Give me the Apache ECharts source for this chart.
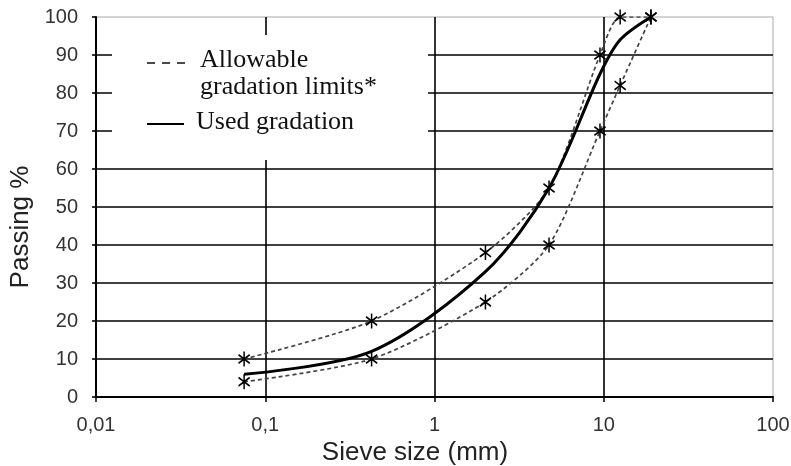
<!DOCTYPE html>
<html>
<head>
<meta charset="utf-8">
<title>Gradation curve</title>
<script src="https://cdn.jsdelivr.net/npm/echarts@6/dist/echarts.min.js"></script>
<style>
  html, body { margin: 0; padding: 0; background: #fff; }
  #main { width: 791px; height: 466px; }
</style>
</head>
<body>
<div id="main"></div>
<script>
// sieve sizes (mm) and passing %
var sieveSizes = [0.075, 0.425, 2, 4.75, 9.5, 12.5, 19];
var upperLimit = [10, 20, 38, 55, 90, 100, 100];
var lowerLimit = [4, 10, 25, 40, 70, 82, 100];
var usedGradation = [6, 12, 33, 55, 85, 94, 100];

var yTicks = [0, 10, 20, 30, 40, 50, 60, 70, 80, 90, 100];

// asterisk marker
var STAR = 'path://M6,0 L6,14 M0,3 L12,11 M0,11 L12,3';

function toPoints(vals) {
  var pts = [];
  for (let i = 0; i < sieveSizes.length; i++) {
    pts.push([sieveSizes[i], vals[i]]);
  }
  return pts;
}

var chart = echarts.init(document.getElementById('main'), null, { renderer: 'canvas' });

var limitLine = {
  type: 'line',
  smooth: 0.25,
  symbol: STAR,
  symbolSize: [13, 15],
  symbolKeepAspect: true,
  itemStyle: { color: 'none', borderColor: '#000', borderWidth: 1.6 },
  lineStyle: { color: '#444', width: 1.7, type: [4, 3] },
  z: 3
};

var option = {
  animation: false,
  grid: {
    left: 96,
    right: 18,
    top: 17,
    bottom: 69,
    containLabel: false,
    outerBoundsMode: 'none',
    show: true,
    borderColor: '#aaa',
    borderWidth: 1
  },
  xAxis: {
    type: 'log',
    logBase: 10,
    min: 0.01,
    max: 100,
    name: 'Sieve size (mm)',
    nameLocation: 'middle',
    nameGap: 39,
    nameTextStyle: { fontFamily: 'Liberation Sans', fontSize: 26, color: '#222', padding: [0, 39, 0, 0] },
    axisLine: { show: true, lineStyle: { color: '#000', width: 2 } },
    axisTick: { show: true, length: 5, lineStyle: { color: '#000', width: 1.5 } },
    minorTick: { show: false },
    axisLabel: {
      margin: 18,
      fontFamily: 'Liberation Sans',
      fontSize: 20,
      color: '#333',
      formatter: function (v) {
        return String(+Number(v).toPrecision(6)).replace('.', ',');
      }
    },
    splitLine: { show: true, showMaxLine: false, lineStyle: { color: '#000', width: 1.6 } }
  },
  yAxis: {
    type: 'value',
    min: 0,
    max: 100,
    interval: 10,
    name: 'Passing %',
    nameLocation: 'middle',
    nameGap: 58,
    nameTextStyle: { fontFamily: 'Liberation Sans', fontSize: 26, color: '#222', padding: [0, 40, 0, 0] },
    axisLine: { show: true, lineStyle: { color: '#000', width: 2 } },
    axisTick: { show: true, length: 4, lineStyle: { color: '#000', width: 1.6 } },
    axisLabel: {
      margin: 18,
      fontFamily: 'Liberation Sans',
      fontSize: 20,
      color: '#333',
      formatter: function (v) { return yTicks.indexOf(v) >= 0 ? String(v) : ''; }
    },
    splitLine: { show: true, showMaxLine: false, lineStyle: { color: '#000', width: 1.6 } }
  },
  graphic: [
    { type: 'rect', z: 50, shape: { x: 112, y: 35, width: 316, height: 125 }, style: { fill: '#fff' } },
    { type: 'line', z: 51, shape: { x1: 147, y1: 63, x2: 185, y2: 63 }, style: { stroke: '#111', lineWidth: 1.5, lineDash: [8, 7] } },
    { type: 'line', z: 51, shape: { x1: 147, y1: 124, x2: 184, y2: 124 }, style: { stroke: '#000', lineWidth: 2.2 } },
    {
      type: 'text', z: 51, left: 200, top: 47,
      style: { text: 'Allowable\ngradation limits*', font: '26px "Liberation Serif"', fill: '#111', lineHeight: 27 }
    },
    {
      type: 'text', z: 51, left: 196, top: 109,
      style: { text: 'Used gradation', font: '26px "Liberation Serif"', fill: '#111', lineHeight: 27 }
    }
  ],
  series: [
    Object.assign({ name: 'Upper limit', data: toPoints(upperLimit) }, limitLine),
    Object.assign({ name: 'Lower limit', data: toPoints(lowerLimit) }, limitLine),
    {
      name: 'Used gradation',
      type: 'line',
      smooth: 0.3,
      symbol: 'none',
      data: toPoints(usedGradation),
      lineStyle: { color: '#000', width: 3 },
      z: 4
    }
  ]
};

chart.setOption(option);
</script>
</body>
</html>
